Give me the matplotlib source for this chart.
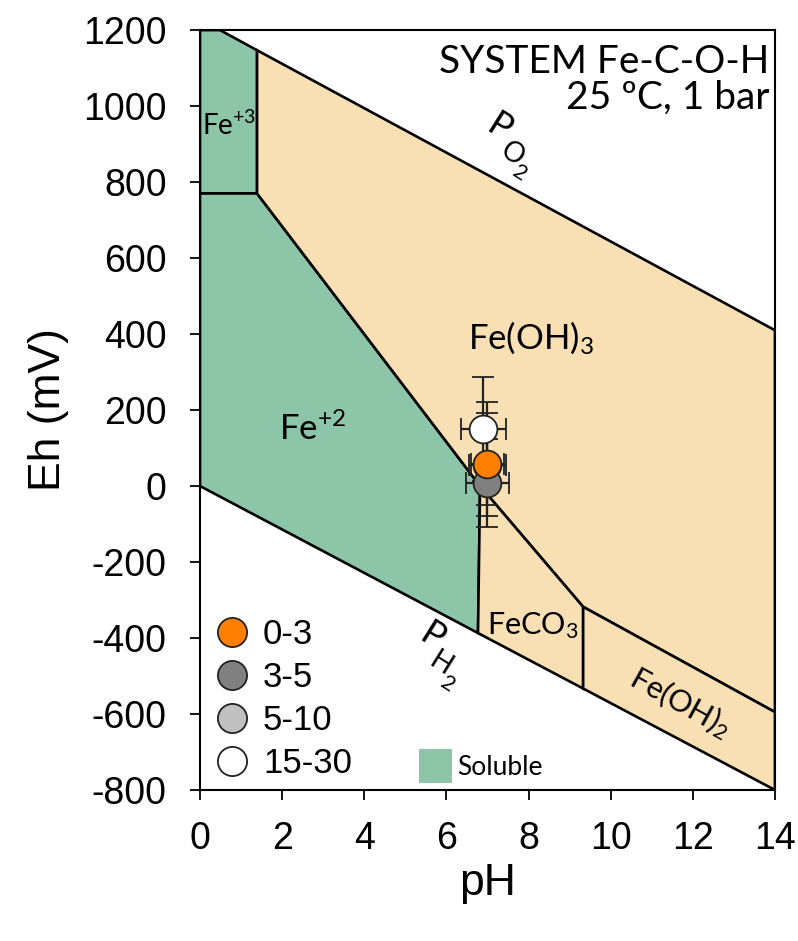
import matplotlib
matplotlib.use("Agg")
import matplotlib.pyplot as plt
from matplotlib.lines import Line2D
from matplotlib.patches import Patch

# stability fields (pH, Eh in mV)
fe3_ph = [0, 0.49, 1.39, 1.39, 0]
fe3_eh = [1200, 1200, 1147, 770, 770]
fe2_ph = [0, 1.39, 6.82, 6.77, 0]
fe2_eh = [770, 770, 0, -387, 0]
feoh3_ph = [1.39, 14, 14, 9.33, 6.82, 1.39]
feoh3_eh = [1147, 410, -595, -318, 0, 770]
feco3_ph = [6.82, 9.33, 9.33, 6.77]
feco3_eh = [0, -318, -533, -387]
feoh2_ph = [9.33, 14, 14, 9.33]
feoh2_eh = [-318, -595, -800, -533]

# samples
groups = ["0-3", "3-5", "5-10", "15-30"]
ph = [7.0, 7.0, 7.0, 6.9]
eh = [59, 9, 55, 149]
ph_err = [0.40, 0.52, 0.45, 0.55]
eh_err_lo = [137, 116, 104, 137]
eh_err_hi = [134, 116, 167, 137]
colors = ["#FF7F00", "#808080", "#C0C0C0", "#FFFFFF"]
draw_order = [2, 3, 1, 0]

green = "#8DC5A9"
beige = "#F9E0B4"

plt.rcParams['font.family'] = ['Liberation Sans', 'DejaVu Sans']
plt.rcParams['axes.unicode_minus'] = False

fig = plt.figure(figsize=(7.98, 9.41), dpi=100)
ax = fig.add_axes([0.2506, 0.1605, 0.7205, 0.8075])

for xs, ys, c in [(fe3_ph, fe3_eh, green), (fe2_ph, fe2_eh, green),
                  (feoh3_ph, feoh3_eh, beige), (feco3_ph, feco3_eh, beige),
                  (feoh2_ph, feoh2_eh, beige)]:
    ax.fill(xs, ys, facecolor=c, edgecolor='black', linewidth=1.9, zorder=1)

for i in draw_order:
    ax.errorbar(ph[i], eh[i], xerr=ph_err[i], yerr=[[eh_err_lo[i]], [eh_err_hi[i]]],
                fmt='o', ms=20, mfc=colors[i], mec='#222222', mew=1.3,
                ecolor='#222222', elinewidth=1.6, capsize=8, capthick=1.6, zorder=3)

ax.set_xlim(0, 14)
ax.set_ylim(-800, 1200)
ax.set_xticks(range(0, 15, 2))
ax.set_yticks(range(-800, 1201, 200))
ax.tick_params(labelsize=27, length=7, width=1.3, direction='out', pad=10)
ax.tick_params(axis='y', pad=17)
ax.tick_params(axis='x', pad=15)
for s in ax.spines.values():
    s.set_linewidth(1.5)
ax.set_xlabel("pH", fontsize=32, labelpad=5)
ax.set_ylabel("Eh (mV)", fontsize=32, labelpad=10)

lab = dict(family=['Lato', 'DejaVu Sans'], color='black', zorder=4)
ax.text(0.99, 0.982, "SYSTEM Fe-C-O-H\n25 ºC, 1 bar", transform=ax.transAxes,
        ha='right', va='top', fontsize=28, linespacing=1.0, **lab)
ax.text(8.05, 390, r"Fe(OH)$\mathregular{_3}$", fontsize=25, ha='center', va='center', **lab)
ax.text(2.75, 150, r"Fe$\mathregular{^{+2}}$", fontsize=25, ha='center', va='center', **lab)
ax.text(0.7, 950, r"Fe$\mathregular{^{+3}}$", fontsize=20, ha='center', va='center', **lab)
ax.text(8.1, -368, r"FeCO$\mathregular{_3}$", fontsize=22, ha='center', va='center', **lab)
ax.text(11.7, -568, r"Fe(OH)$\mathregular{_2}$", fontsize=22, ha='center', va='center',
        rotation=-29, rotation_mode='anchor', **lab)

# gas pressure labels, letter by letter
for (x, y, s, fs) in [(7.30, 944, "P", 26), (7.60, 873, "O", 20), (7.79, 823, "2", 16),
                      (5.67, -397, "P", 26), (5.87, -468, "H", 20), (6.04, -521, "2", 16)]:
    ax.text(x, y, s, fontsize=fs, ha='center', va='center', rotation=-32,
            rotation_mode='anchor', **lab)

handles = [Line2D([], [], ls='none', marker='o', ms=21, mfc=c, mec='#222222', mew=1.3)
           for c in colors]
leg1 = ax.legend(handles, groups, loc='lower left', frameon=False, fontsize=25,
                 handlelength=0.9, handletextpad=0.45, labelspacing=0.29,
                 borderaxespad=0.0, bbox_to_anchor=(0.004, -0.005))
ax.add_artist(leg1)
leg2 = ax.legend([Patch(facecolor=green, edgecolor='none')], ["Soluble"],
                 loc='lower left', bbox_to_anchor=(0.354, -0.012), frameon=False,
                 prop={'family': 'Lato', 'size': 19}, handlelength=1.25, handleheight=1.6,
                 handletextpad=0.2, borderaxespad=0.2)

fig.savefig("out.png", dpi=100)
